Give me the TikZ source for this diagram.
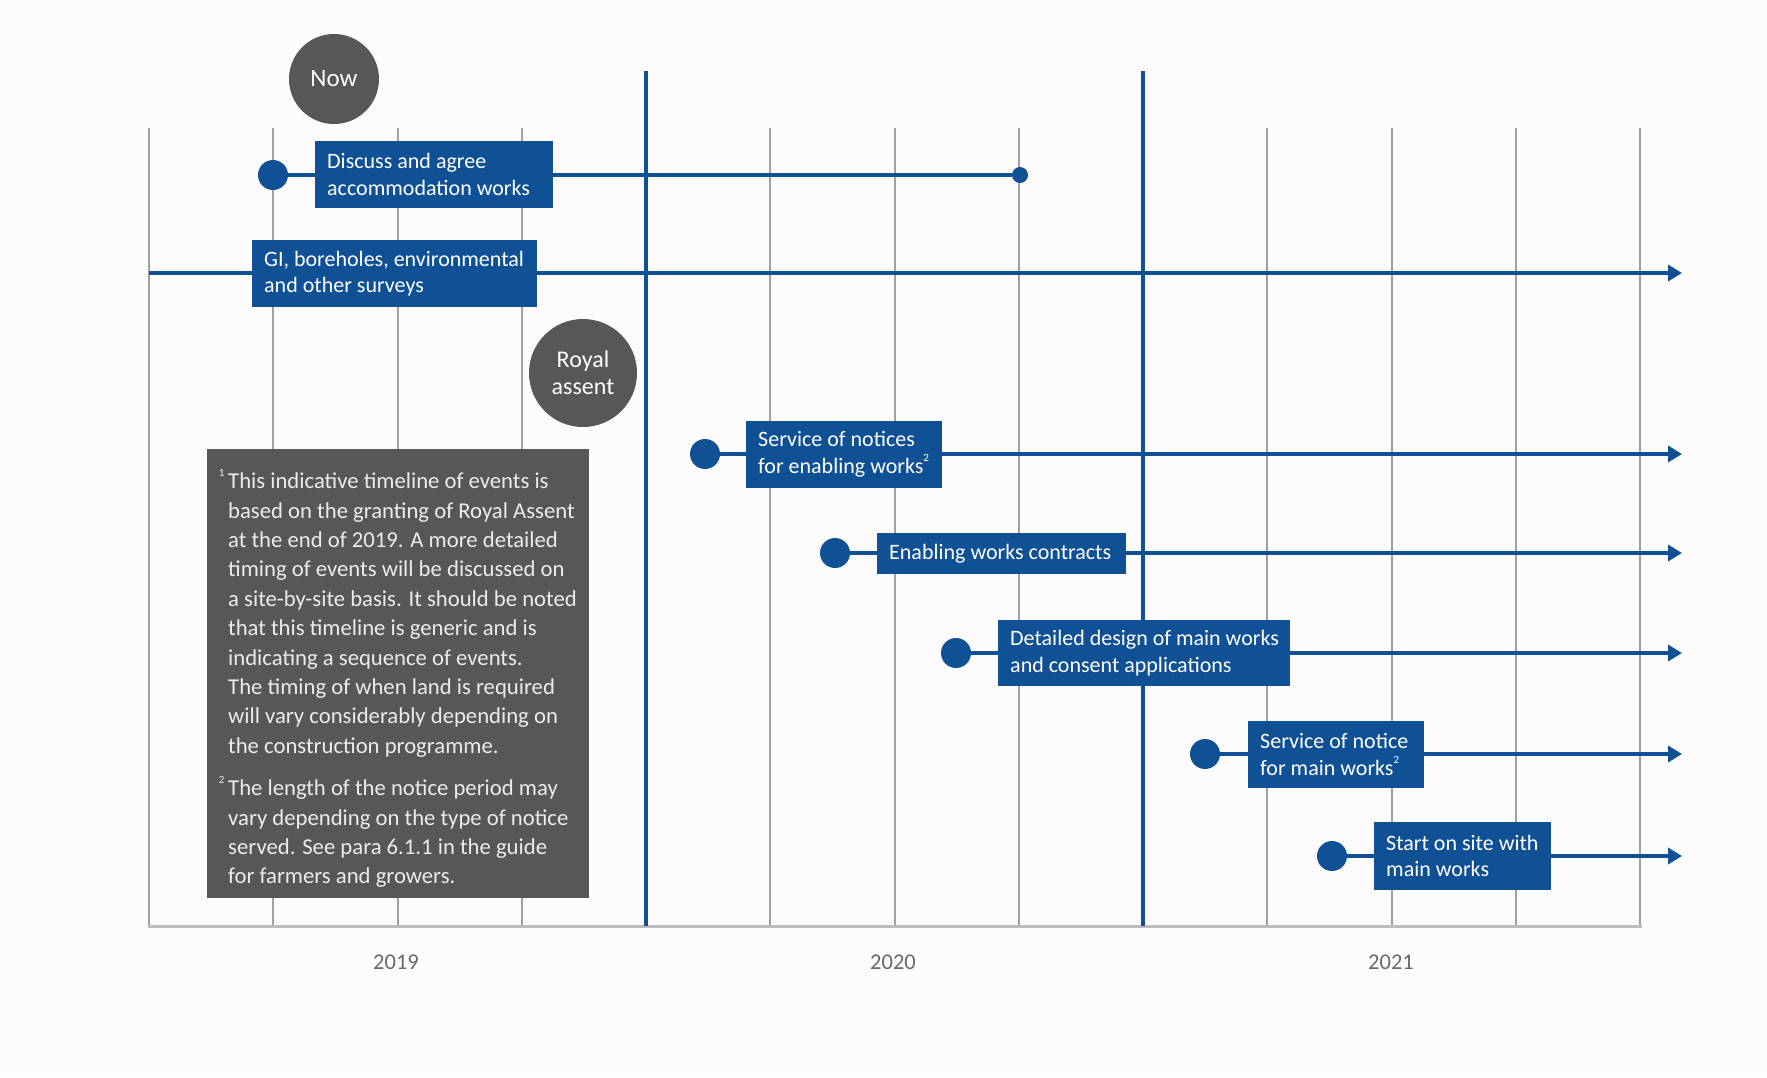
\documentclass[tikz,border=0pt]{standalone}
\usepackage{fontspec}
\setmainfont{Carlito}
\usetikzlibrary{arrows.meta}
\definecolor{hsblue}{RGB}{16,80,148}
\definecolor{darkgrey}{RGB}{88,86,86}
\definecolor{gridgrey}{RGB}{160,160,160}
\definecolor{axisgrey}{RGB}{188,188,188}
\definecolor{yeargrey}{RGB}{105,105,105}
\definecolor{notetext}{RGB}{236,236,236}
\definecolor{bgcol}{RGB}{253,251,251}
\newcommand\boxline[1]{\mbox{#1}}
\newcommand\tinysup[1]{\raisebox{0.55em}{\fontsize{11}{11}\selectfont #1}}
\begin{document}
\begin{tikzpicture}[x=1pt,y=-1pt,
  gridline/.style={gridgrey, line width=2pt},
  milestone/.style={hsblue, line width=4pt},
  conn/.style={hsblue, line width=3.5pt},
  arr/.style={conn, -{Triangle[length=14pt,width=16pt]}},
  startdot/.style={circle, fill=hsblue, minimum size=30pt, inner sep=0pt},
  enddot/.style={circle, fill=hsblue, minimum size=16pt, inner sep=0pt},
  evbox/.style={fill=hsblue, text=white, font=\fontsize{22}{26.7}\selectfont, inner xsep=12pt, inner ysep=0pt, align=flush left, anchor=west},
  ring/.style={circle, fill=darkgrey, text=white, inner sep=0pt, align=center},
  year/.style={text=yeargrey, font=\fontsize{22.5}{26}\selectfont},
  notebox/.style={fill=darkgrey, inner sep=0pt, anchor=north west},
  notetxt/.style={text=notetext, font=\fontsize{22.7}{29.4}\selectfont, align=flush left, inner sep=0pt, anchor=north west}
]
\useasboundingbox (0,0) rectangle (1767,1077);
\fill[bgcol] (0,0) rectangle (1767,1077);

% grid
\foreach \i in {0,1,2,3,5,6,7,9,10,11,12}{
  \draw[gridline] ({149+124.25*\i},128) -- ({149+124.25*\i},926);
}
\draw[axisgrey, line width=3pt] (148,926) -- (1642,926);
\draw[milestone] ({149+124.25*4},71) -- ({149+124.25*4},926);
\draw[milestone] ({149+124.25*8},71) -- ({149+124.25*8},926);

% years
\node[year] (y19) at (396,962) {2019};
\node[year] (y20) at (893,962) {2020};
\node[year] (y21) at (1391,962) {2021};

% circles
\node[ring, minimum size=90pt, font=\fontsize{25}{29}\selectfont] (now) at (334,79) {Now};
\node[ring, minimum size=108pt, font=\fontsize{24}{27}\selectfont] (ra) at (583,373) {Royal\\assent};

% dots and end points
\node[startdot] (d1) at (273,175) {};
\node[enddot] (e1) at (1020,175) {};
\coordinate (s2) at (149,273);
\coordinate (e2) at (1682,273);
\node[startdot] (d3) at (705,454) {};
\coordinate (e3) at (1682,454);
\node[startdot] (d4) at (835,553) {};
\coordinate (e4) at (1682,553);
\node[startdot] (d5) at (956,653) {};
\coordinate (e5) at (1682,653);
\node[startdot] (d6) at (1205,754) {};
\coordinate (e6) at (1682,754);
\node[startdot] (d7) at (1332,856) {};
\coordinate (e7) at (1682,856);

% connectors
\draw[conn] (d1) -- (e1);
\draw[arr] (s2) -- (e2);
\draw[arr] (d3) -- (e3);
\draw[arr] (d4) -- (e4);
\draw[arr] (d5) -- (e5);
\draw[arr] (d6) -- (e6);
\draw[arr] (d7) -- (e7);

% boxes
\node[evbox, text width=214pt, minimum height=67pt] (b1) at (315,174.5) {\boxline{Discuss and agree}\\\boxline{accommodation works}};
\node[evbox, text width=261pt, minimum height=67pt] (b2) at (252,273.5) {\boxline{GI, boreholes, environmental}\\\boxline{and other surveys}};
\node[evbox, text width=172pt, minimum height=67pt] (b3) at (746,454.5) {\boxline{Service of notices}\\\boxline{for enabling works\tinysup{2}}};
\node[evbox, text width=225pt, minimum height=41pt] (b4) at (877,553.5) {\boxline{Enabling works contracts}};
\node[evbox, text width=268pt, minimum height=66pt] (b5) at (998,653) {\boxline{Detailed design of main works}\\\boxline{and consent applications}};
\node[evbox, text width=152pt, minimum height=67pt] (b6) at (1248,754.5) {\boxline{Service of notice}\\\boxline{for main works\tinysup{2}}};
\node[evbox, text width=153pt, minimum height=68pt] (b7) at (1374,856) {\boxline{Start on site with}\\\boxline{main works}};

% note
\node[notebox, minimum width=382pt, minimum height=449pt] (note) at (207,449) {};
\node[notetxt] (notetext) at (228,469) {\llap{\tinysup{1}\,}This indicative timeline of events is\\
based on the granting of Royal Assent\\
at the end of 2019. A more detailed\\
timing of events will be discussed on\\
a site-by-site basis. It should be noted\\
that this timeline is generic and is\\
indicating a sequence of events.\\
The timing of when land is required\\
will vary considerably depending on\\
the construction programme.\\[13pt]
\llap{\tinysup{2}\,}The length of the notice period may\\
vary depending on the type of notice\\
served. See para 6.1.1 in the guide\\
for farmers and growers.};
\end{tikzpicture}
\end{document}
